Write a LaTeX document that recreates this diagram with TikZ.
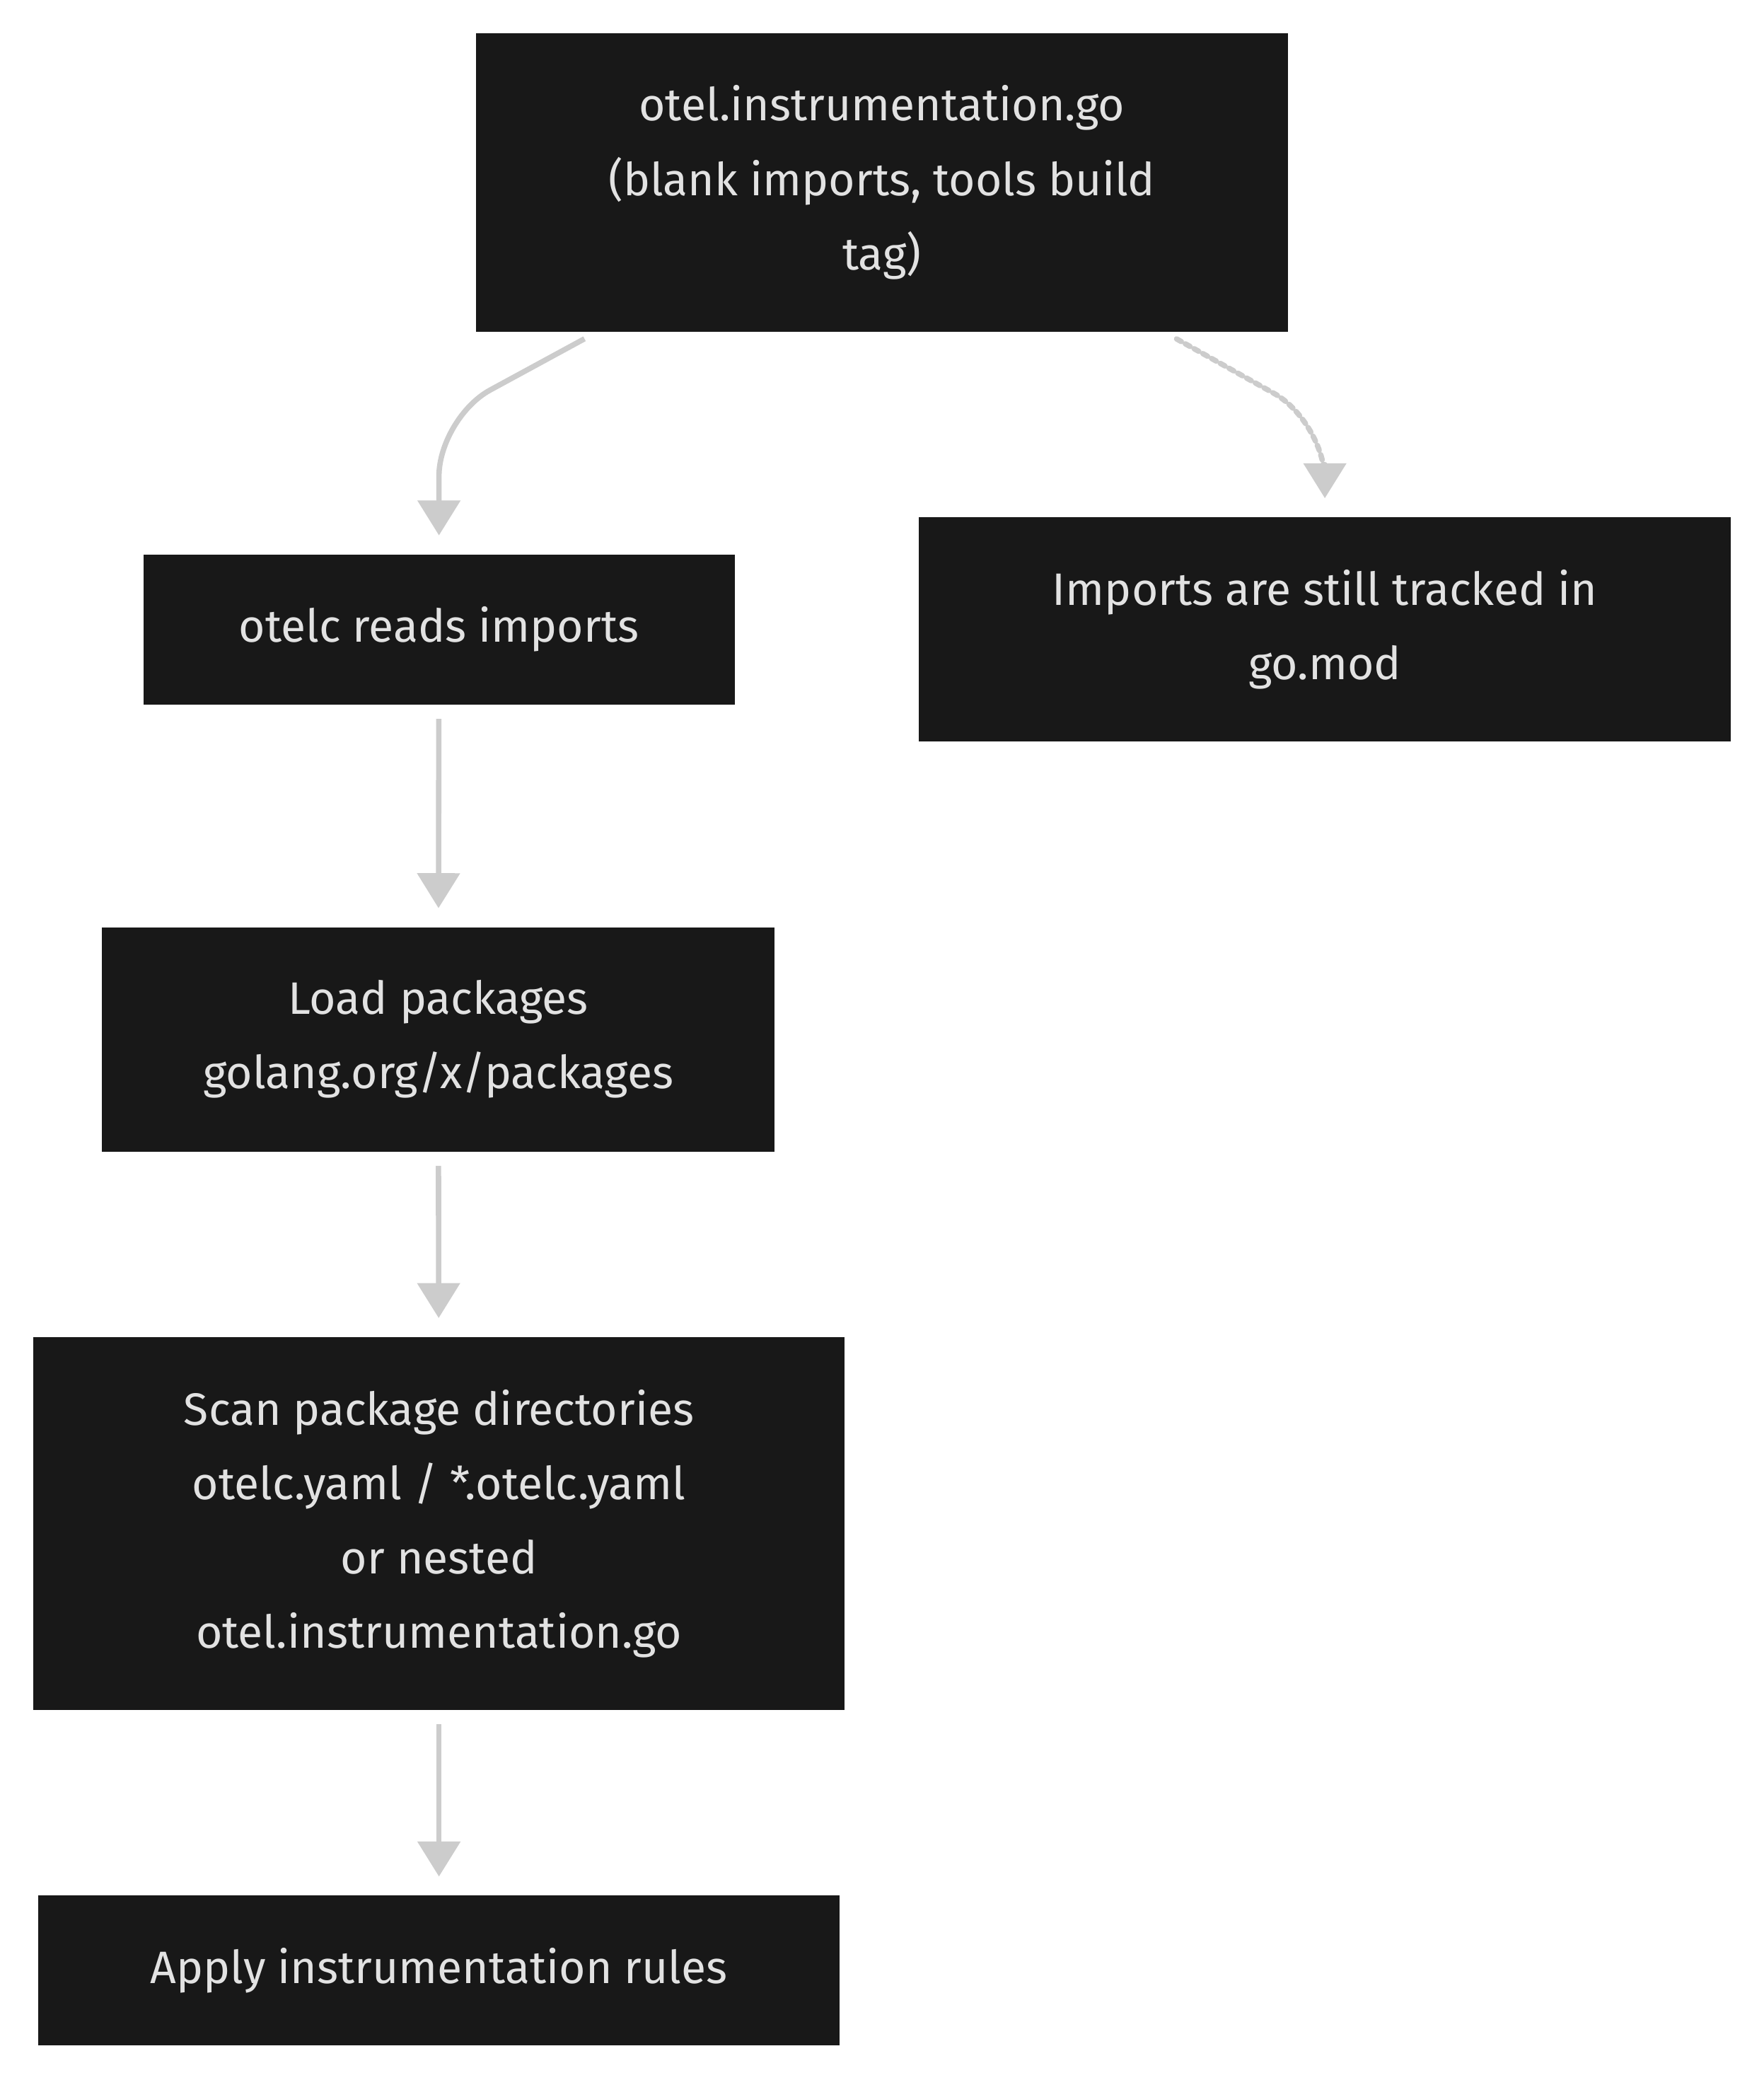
\documentclass[tikz,border=0pt]{standalone}
\usepackage{fontspec}
\setmainfont{Fira Sans}
\usetikzlibrary{positioning}
\usetikzlibrary{arrows.meta}
\definecolor{boxfill}{HTML}{181818}
\definecolor{boxtext}{HTML}{E2E2E2}
\definecolor{edgegray}{HTML}{CCCCCC}
\tikzset{
  flowbox/.style={fill=boxfill, text=boxtext, align=center, inner sep=0pt,
    font=\fontsize{19.5}{31.9}\selectfont},
  edge/.style={draw=edgegray, line width=2.3pt, rounded corners=25,
    -{Triangle[width=18pt,length=15pt]}, shorten >=8pt},
}
\begin{document}
\begin{tikzpicture}[x=0.02cm, y=-0.02cm]

\useasboundingbox[fill=white] (0,0) rectangle (1330,1568);

% Boxes
\node[flowbox, minimum width=612*0.02cm, minimum height=225*0.02cm] (instr) at (665,137.5)
  {otel.instrumentation.go\\(blank imports, tools build\\tag)};
\node[flowbox, minimum width=446*0.02cm, minimum height=113*0.02cm] (reads) at (331,474.5)
  {otelc reads imports};
\node[flowbox, minimum width=612*0.02cm, minimum height=169*0.02cm] (gomod) at (999,474.5)
  {Imports are still tracked in\\go.mod};
\node[flowbox, minimum width=507*0.02cm, minimum height=169*0.02cm] (load) at (330.5,783.5)
  {Load packages\\golang.org/x/packages};
\node[flowbox, minimum width=612*0.02cm, minimum height=281*0.02cm] (scan) at (331,1148.5)
  {Scan package directories\\otelc.yaml / *.otelc.yaml\\or nested\\otel.instrumentation.go};
\node[flowbox, minimum width=604*0.02cm, minimum height=113*0.02cm] (apply) at (331,1485.5)
  {Apply instrumentation rules};

% Connectors
\draw[edge, shorten <=6pt] ([xshift=-215*0.02cm]instr.south) -- (331,315) -- (reads.north);
\draw[edge, shorten <=6pt, dotted, line cap=round] ([xshift=213*0.02cm]instr.south) -- (999,318) -- (gomod.north);
\draw[edge, shorten <=6pt] (reads) -- (load);
\draw[edge, shorten <=6pt] (load) -- (scan);
\draw[edge, shorten <=6pt] (scan) -- (apply);

\end{tikzpicture}
\end{document}
